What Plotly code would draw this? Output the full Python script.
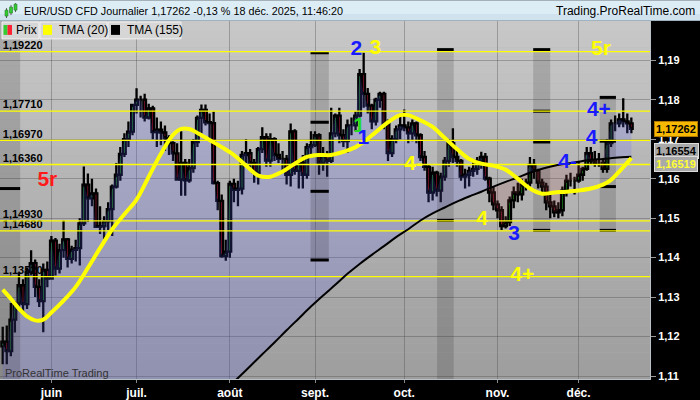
import numpy as np
import pandas as pd
import plotly.graph_objects as go

# ---------------- data ----------------
DATES = pd.bdate_range("2025-05-15", "2025-12-18")  # daily candles, weekdays

OPEN = [1.1175, 1.1187, 1.1163, 1.1243, 1.1284, 1.1330, 1.1282, 1.1364, 1.1386, 1.1326,
        1.1290, 1.1369, 1.1347, 1.1443, 1.1372, 1.1419, 1.1446, 1.1397, 1.1420, 1.1424,
        1.1487, 1.1585, 1.1550, 1.1563, 1.1478, 1.1480, 1.1492, 1.1523, 1.1580, 1.1610,
        1.1663, 1.1700, 1.1719, 1.1787, 1.1800, 1.1800, 1.1755, 1.1778, 1.1718, 1.1724,
        1.1717, 1.1703, 1.1690, 1.1664, 1.1598, 1.1640, 1.1596, 1.1627, 1.1693, 1.1754,
        1.1774, 1.1743, 1.1741, 1.1589, 1.1544, 1.1404, 1.1415, 1.1587, 1.1572, 1.1575,
        1.1660, 1.1665, 1.1640, 1.1615, 1.1675, 1.1705, 1.1646, 1.1700, 1.1660, 1.1650,
        1.1650, 1.1610, 1.1720, 1.1620, 1.1640, 1.1610, 1.1680, 1.1685, 1.1710, 1.1640,
        1.1660, 1.1645, 1.1715, 1.1760, 1.1710, 1.1695, 1.1735, 1.1735, 1.1760, 1.1865,
        1.1815, 1.1785, 1.1745, 1.1800, 1.1815, 1.1738, 1.1665, 1.1700, 1.1725, 1.1735,
        1.1730, 1.1715, 1.1740, 1.1710, 1.1655, 1.1630, 1.1565, 1.1615, 1.1570, 1.1605,
        1.1645, 1.1690, 1.1655, 1.1645, 1.1605, 1.1610, 1.1620, 1.1625, 1.1645, 1.1655,
        1.1600, 1.1565, 1.1535, 1.1520, 1.1480, 1.1490, 1.1545, 1.1565, 1.1560, 1.1585,
        1.1590, 1.1635, 1.1620, 1.1590, 1.1580, 1.1540, 1.1530, 1.1515, 1.1520, 1.1570,
        1.1595, 1.1595, 1.1595, 1.1610, 1.1625, 1.1665, 1.1645, 1.1640, 1.1640, 1.1625,
        1.1690, 1.1740, 1.1740, 1.1750, 1.1745, 1.1740]
HIGH = [1.1225, 1.1228, 1.1285, 1.1290, 1.1363, 1.1345, 1.1375, 1.1419, 1.1395, 1.1345,
        1.1385, 1.1390, 1.1455, 1.1450, 1.1435, 1.1495, 1.1450, 1.1430, 1.1445, 1.1500,
        1.1631, 1.1613, 1.1600, 1.1575, 1.1530, 1.1505, 1.1540, 1.1585, 1.1640, 1.1680,
        1.1715, 1.1745, 1.1790, 1.1829, 1.1810, 1.1815, 1.1790, 1.1785, 1.1755, 1.1745,
        1.1735, 1.1710, 1.1695, 1.1690, 1.1720, 1.1650, 1.1650, 1.1700, 1.1760, 1.1788,
        1.1788, 1.1765, 1.1770, 1.1595, 1.1560, 1.1445, 1.1595, 1.1600, 1.1595, 1.1670,
        1.1700, 1.1675, 1.1650, 1.1680, 1.1730, 1.1715, 1.1715, 1.1705, 1.1690, 1.1670,
        1.1660, 1.1740, 1.1725, 1.1650, 1.1660, 1.1690, 1.1720, 1.1720, 1.1715, 1.1680,
        1.1670, 1.1780, 1.1765, 1.1780, 1.1725, 1.1750, 1.1755, 1.1770, 1.1878, 1.1919,
        1.1830, 1.1790, 1.1805, 1.1820, 1.1820, 1.1750, 1.1710, 1.1735, 1.1760, 1.1775,
        1.1745, 1.1750, 1.1745, 1.1715, 1.1670, 1.1635, 1.1630, 1.1620, 1.1615, 1.1655,
        1.1700, 1.1728, 1.1675, 1.1650, 1.1625, 1.1630, 1.1645, 1.1655, 1.1668, 1.1665,
        1.1605, 1.1580, 1.1545, 1.1530, 1.1505, 1.1555, 1.1580, 1.1590, 1.1600, 1.1600,
        1.1655, 1.1650, 1.1625, 1.1600, 1.1590, 1.1560, 1.1545, 1.1540, 1.1580, 1.1610,
        1.1615, 1.1605, 1.1645, 1.1630, 1.1680, 1.1680, 1.1670, 1.1665, 1.1650, 1.1700,
        1.1750, 1.1760, 1.1765, 1.1804, 1.1765, 1.1755]
LOW = [1.1130, 1.1130, 1.1150, 1.1210, 1.1275, 1.1260, 1.1270, 1.1355, 1.1300, 1.1275,
       1.1211, 1.1325, 1.1345, 1.1355, 1.1360, 1.1400, 1.1375, 1.1385, 1.1390, 1.1380,
       1.1480, 1.1490, 1.1530, 1.1475, 1.1460, 1.1447, 1.1470, 1.1455, 1.1575, 1.1595,
       1.1655, 1.1680, 1.1710, 1.1765, 1.1755, 1.1745, 1.1750, 1.1700, 1.1680, 1.1685,
       1.1670, 1.1660, 1.1645, 1.1595, 1.1557, 1.1557, 1.1590, 1.1615, 1.1680, 1.1715,
       1.1735, 1.1700, 1.1585, 1.1520, 1.1400, 1.1392, 1.1400, 1.1540, 1.1530, 1.1560,
       1.1640, 1.1625, 1.1590, 1.1585, 1.1665, 1.1630, 1.1630, 1.1645, 1.1640, 1.1615,
       1.1585, 1.1580, 1.1610, 1.1575, 1.1575, 1.1600, 1.1660, 1.1680, 1.1610, 1.1620,
       1.1605, 1.1640, 1.1705, 1.1690, 1.1680, 1.1665, 1.1710, 1.1720, 1.1755, 1.1780,
       1.1765, 1.1725, 1.1735, 1.1780, 1.1725, 1.1645, 1.1655, 1.1690, 1.1700, 1.1720,
       1.1690, 1.1695, 1.1690, 1.1645, 1.1620, 1.1540, 1.1545, 1.1555, 1.1540, 1.1595,
       1.1630, 1.1640, 1.1630, 1.1595, 1.1575, 1.1580, 1.1605, 1.1610, 1.1625, 1.1595,
       1.1540, 1.1520, 1.1500, 1.1470, 1.1474, 1.1480, 1.1525, 1.1540, 1.1545, 1.1570,
       1.1580, 1.1600, 1.1575, 1.1565, 1.1520, 1.1500, 1.1502, 1.1500, 1.1505, 1.1555,
       1.1580, 1.1560, 1.1590, 1.1595, 1.1620, 1.1635, 1.1630, 1.1630, 1.1615, 1.1615,
       1.1680, 1.1720, 1.1730, 1.1730, 1.1715, 1.1715]
CLOSE = [1.1187, 1.1163, 1.1243, 1.1284, 1.1330, 1.1282, 1.1364, 1.1386, 1.1326, 1.1290,
         1.1369, 1.1347, 1.1443, 1.1372, 1.1419, 1.1446, 1.1397, 1.1420, 1.1424, 1.1487,
         1.1585, 1.1550, 1.1563, 1.1478, 1.1480, 1.1492, 1.1523, 1.1580, 1.1610, 1.1663,
         1.1700, 1.1719, 1.1787, 1.1800, 1.1800, 1.1755, 1.1778, 1.1718, 1.1724, 1.1717,
         1.1703, 1.1690, 1.1664, 1.1598, 1.1640, 1.1596, 1.1627, 1.1693, 1.1754, 1.1774,
         1.1743, 1.1741, 1.1589, 1.1544, 1.1404, 1.1415, 1.1587, 1.1572, 1.1575, 1.1660,
         1.1665, 1.1640, 1.1615, 1.1675, 1.1705, 1.1646, 1.1700, 1.1660, 1.1650, 1.1650,
         1.1610, 1.1720, 1.1620, 1.1640, 1.1610, 1.1680, 1.1685, 1.1710, 1.1640, 1.1660,
         1.1645, 1.1715, 1.1760, 1.1710, 1.1695, 1.1735, 1.1735, 1.1760, 1.1865, 1.1815,
         1.1785, 1.1745, 1.1800, 1.1815, 1.1738, 1.1665, 1.1700, 1.1725, 1.1735, 1.1730,
         1.1715, 1.1740, 1.1710, 1.1655, 1.1630, 1.1565, 1.1615, 1.1570, 1.1605, 1.1645,
         1.1690, 1.1655, 1.1645, 1.1605, 1.1610, 1.1620, 1.1625, 1.1645, 1.1655, 1.1600,
         1.1565, 1.1535, 1.1520, 1.1480, 1.1490, 1.1545, 1.1565, 1.1560, 1.1585, 1.1590,
         1.1635, 1.1620, 1.1590, 1.1580, 1.1540, 1.1530, 1.1515, 1.1520, 1.1570, 1.1595,
         1.1595, 1.1595, 1.1610, 1.1625, 1.1665, 1.1645, 1.1640, 1.1640, 1.1625, 1.1690,
         1.1740, 1.1740, 1.1750, 1.1745, 1.1740, 1.17262]

# TMA(20) and TMA(155) at candle positions
TMA20_POS = [0, 2, 4, 6, 8, 10, 12, 15, 18, 21, 24, 27, 30, 33, 36, 39, 42, 44, 46, 48,
             51, 54, 57, 60, 63, 66, 69, 72, 75, 78, 81, 84, 87, 89, 92, 95, 98, 100, 103,
             106, 109, 112, 115, 118, 121, 124, 127, 130, 133, 136, 139, 142, 145, 148,
             150, 152, 155]
TMA20_VAL = [1.1319, 1.1296, 1.1271, 1.1251, 1.1241, 1.1243, 1.1261, 1.1291, 1.1326, 1.1374,
             1.1424, 1.1472, 1.1510, 1.1547, 1.1605, 1.1663, 1.1711, 1.1726, 1.1726, 1.1716,
             1.1698, 1.1680, 1.1660, 1.1633, 1.1608, 1.1605, 1.1618, 1.1638, 1.1655, 1.1660,
             1.1660, 1.1668, 1.1680, 1.1693, 1.1718, 1.1743, 1.1761, 1.1761, 1.1748, 1.1731,
             1.1703, 1.1675, 1.1650, 1.1638, 1.1633, 1.1623, 1.1600, 1.1575, 1.1562, 1.1565,
             1.1567, 1.1570, 1.1575, 1.1585, 1.1597, 1.1618, 1.16519]
TMA155_POS = [55, 58, 61, 64, 67, 70, 73, 76, 79, 82, 85, 88, 91, 94, 97, 100, 103, 106,
              109, 112, 115, 118, 121, 124, 127, 130, 133, 136, 139, 142, 145, 148, 151, 155]
TMA155_VAL = [1.1065, 1.1095, 1.1125, 1.1155, 1.1185, 1.1216, 1.1246, 1.1276, 1.1304, 1.1331,
              1.1359, 1.1384, 1.1407, 1.1429, 1.1452, 1.1472, 1.1494, 1.1512, 1.1527, 1.1542,
              1.1555, 1.1567, 1.1580, 1.1592, 1.1603, 1.1615, 1.1625, 1.1633, 1.1638, 1.1643,
              1.1648, 1.1650, 1.1653, 1.16554]

LAST_PRICE = 1.17262
TMA155_LAST = 1.16554
TMA20_LAST = 1.16519

LEVELS = [1.1922, 1.1771, 1.1697, 1.1636, 1.1493, 1.1468, 1.1352]
LEVEL_TEXT = ["1,19220", "1,17710", "1,16970", "1,16360", "1,14930", "1,14680", "1,13520"]

MONTH_TEXT = {6: "juin", 7: "juil.", 8: "août", 9: "sept.", 10: "oct.", 11: "nov.", 12: "déc."}

# time-cycle bands (candle index span, price span) and their level marks
BAND_FROM = [-3.0, 75.9, 107.1, 130.8, 147.2]
BAND_TO = [4.3, 80.4, 111.2, 135.0, 151.2]
BAND_TOP = [1.2100, 1.1919, 1.1927, 1.1927, 1.1806]
BAND_BOT = [1.1000, 1.1394, 1.1000, 1.1469, 1.1467]
MARK_BAND = [0, 1, 1, 1, 1, 2, 2, 3, 3, 3, 3, 4, 4, 4, 4]
MARK_PRICE = [1.1575, 1.1919, 1.1743, 1.1568, 1.1394, 1.1927, 1.1494,
              1.1927, 1.1771, 1.1693, 1.1469, 1.1806, 1.1695, 1.1580, 1.1469]

# wave labels
WAVE_TEXT = ["5r", "2", "3", "5r", "1", "1", "4-", "4+", "4", "4-", "4", "3", "4+"]
WAVE_POS = [11.0, 87.2, 91.9, 147.5, 87.9, 88.9, 101.3, 147.0, 145.2, 139.3, 118.2, 126.1, 128.1]
WAVE_PRICE = [1.1595, 1.1927, 1.1929, 1.1927, 1.1731, 1.1700, 1.1635, 1.1771, 1.1700,
              1.1640, 1.1497, 1.1459, 1.1354]
WAVE_COLOR = ["#ff1a1a", "#1a1aff", "#ffff00", "#ffff00", "#22dd22", "#1a1aff", "#ffff00",
              "#1a1aff", "#1a1aff", "#1a1aff", "#ffff00", "#1a1aff", "#ffff00"]

# ---------------- layout constants ----------------
W, H = 700, 400
PL, PR, PT, PB = 0, 650, 21, 382
X_MIN, X_MAX = -0.67, 159.6
Y_MIN, Y_MAX = 1.10925, 1.19995
FONT = "Liberation Sans, Arial, sans-serif"


def px(x):
    return (x - PL) / (PR - PL)


def py(y):
    return (PB - y) / (PB - PT)


idx = np.arange(len(CLOSE))
close = np.array(CLOSE)
base = np.interp(idx, TMA155_POS, TMA155_VAL, left=Y_MIN - 0.02)

fig = go.Figure()
nohover = dict(hoverinfo="skip", showlegend=False)

# fill between price and TMA(155)
fig.add_trace(go.Scatter(x=idx, y=base, mode="lines", line=dict(width=0), **nohover))
fig.add_trace(go.Scatter(x=idx, y=np.maximum(close, base), mode="lines", line=dict(width=0),
                         fill="tonexty", fillcolor="rgba(90,90,255,0.19)", **nohover))
fig.add_trace(go.Scatter(x=idx, y=close, mode="lines", line=dict(width=0), **nohover))
fig.add_trace(go.Scatter(x=idx, y=np.maximum(base, close), mode="lines", line=dict(width=0),
                         fill="tonexty", fillcolor="rgba(180,80,80,0.17)", **nohover))

# bands
for x0, x1, t, b in zip(BAND_FROM, BAND_TO, BAND_TOP, BAND_BOT):
    fig.add_trace(go.Scatter(x=[x0, x1, x1, x0, x0], y=[b, b, t, t, b], mode="lines",
                             line=dict(width=0), fill="toself",
                             fillcolor="rgba(30,30,30,0.17)", **nohover))
mx, my = [], []
for bi, p in zip(MARK_BAND, MARK_PRICE):
    mx += [max(BAND_FROM[bi], X_MIN), BAND_TO[bi], None]
    my += [p, p, None]
fig.add_trace(go.Scatter(x=mx, y=my, mode="lines", line=dict(color="black", width=3), **nohover))

# level labels (under candles)
fig.add_trace(go.Scatter(x=[X_MIN + 0.7] * len(LEVELS), y=LEVELS, text=LEVEL_TEXT,
                         mode="text", textposition="top right",
                         textfont=dict(family=FONT, size=11, color="black", weight="bold"),
                         **nohover))

# candles
fig.add_trace(go.Candlestick(
    x=idx, open=OPEN, high=HIGH, low=LOW, close=CLOSE,
    increasing=dict(line=dict(color="black", width=2.3), fillcolor="#33ee33"),
    decreasing=dict(line=dict(color="black", width=2.3), fillcolor="#ff2255"),
    whiskerwidth=0, hoverinfo="skip", showlegend=False))

# horizontal levels
lx, ly = [], []
for L in LEVELS:
    lx += [X_MIN, X_MAX, None]
    ly += [L, L, None]
fig.add_trace(go.Scatter(x=lx, y=ly, mode="lines", line=dict(color="#ffff00", width=1.3), **nohover))

# moving averages
fig.add_trace(go.Scatter(x=TMA155_POS, y=TMA155_VAL, mode="lines",
                         line=dict(color="black", width=2, shape="spline"), **nohover))
fig.add_trace(go.Scatter(x=TMA20_POS, y=TMA20_VAL, mode="lines",
                         line=dict(color="#ffff00", width=4, shape="spline"), **nohover))

# wave labels
fig.add_trace(go.Scatter(x=WAVE_POS, y=WAVE_PRICE, text=WAVE_TEXT, mode="text",
                         textposition="middle center",
                         textfont=dict(family=FONT, size=21, color=WAVE_COLOR, weight="bold"),
                         **nohover))

# month ticks
tickvals, ticktext = [], []
for i, d in enumerate(DATES):
    if i > 0 and d.month != DATES[i - 1].month and d.month in MONTH_TEXT:
        tickvals.append(i)
        ticktext.append(MONTH_TEXT[d.month])

shapes = []
# plot background gradient
N = 40
for k in range(N):
    f = k / (N - 1)
    c = int(200 - 42 * f)
    shapes.append(dict(type="rect", xref="paper", yref="paper", x0=0, x1=1,
                       y0=1 - (k + 1) / N, y1=1 - k / N, fillcolor=f"rgb({c},{c},{c})",
                       line=dict(width=0), layer="below"))
# title bar
shapes.append(dict(type="rect", xref="paper", yref="paper", x0=px(0), x1=px(W), y0=py(21), y1=py(0),
                   fillcolor="#dcedf6", line=dict(width=0), layer="above"))
shapes.append(dict(type="rect", xref="paper", yref="paper", x0=px(0), x1=px(W), y0=py(21), y1=py(14),
                   fillcolor="#cfe2ee", line=dict(width=0), layer="above"))
shapes.append(dict(type="line", xref="paper", yref="paper", x0=px(0), x1=px(W), y0=py(20.5), y1=py(20.5),
                   line=dict(color="#9fb2bf", width=1), layer="above"))
# title icon
for (x0, x1, y0, y1, wy0, wy1, col) in [(5, 8, 10, 16, 8, 18, "#33cc33"), (9.5, 12.5, 7, 13, 5, 15, "#33cc33"),
                                          (14, 17, 4, 10, 3, 12, "#33cc33")]:
    shapes.append(dict(type="line", xref="paper", yref="paper", x0=px((x0 + x1) / 2), x1=px((x0 + x1) / 2),
                       y0=py(wy1), y1=py(wy0), line=dict(color="#555", width=1), layer="above"))
    shapes.append(dict(type="rect", xref="paper", yref="paper", x0=px(x0), x1=px(x1), y0=py(y1), y1=py(y0),
                       fillcolor=col, line=dict(color="#2a7a2a", width=0.6), layer="above"))
# legend boxes
for (x0, x1) in [(2, 39), (40, 107), (108, 181)]:
    shapes.append(dict(type="rect", xref="paper", yref="paper", x0=px(x0), x1=px(x1), y0=py(39), y1=py(22),
                       fillcolor="#d6d6d6", line=dict(color="#f2f2f2", width=1), layer="above"))
for (x0, x1, col) in [(3.5, 7.5, "#33cc33"), (7.5, 12, "#ff2233"), (43, 52, "#ffff00"), (111, 120, "#000000")]:
    shapes.append(dict(type="rect", xref="paper", yref="paper", x0=px(x0), x1=px(x1), y0=py(35), y1=py(25),
                       fillcolor=col, line=dict(width=0), layer="above"))

ann = []
ann.append(dict(xref="paper", yref="paper", x=px(22), y=py(10.5), xanchor="left", yanchor="middle",
                text=f"EUR/USD CFD Journalier {LAST_PRICE:.5f}".replace(".", ",")
                     + " -0,13 % 18 déc. 2025, 11:46:20",
                showarrow=False, font=dict(family=FONT, size=10.8, color="black")))
ann.append(dict(xref="paper", yref="paper", x=px(697), y=py(10.5), xanchor="right", yanchor="middle",
                text="Trading.ProRealTime.com", showarrow=False,
                font=dict(family=FONT, size=12, color="black")))
for (x, t) in [(14, "Prix"), (57, "TMA (20)"), (125, "TMA (155)")]:
    ann.append(dict(xref="paper", yref="paper", x=px(x), y=py(30.5), xanchor="left", yanchor="middle",
                    text=t, showarrow=False, font=dict(family=FONT, size=12, color="black")))
ann.append(dict(xref="paper", yref="paper", x=px(3), y=py(376), xanchor="left", yanchor="middle",
                text="ProRealTime Trading", showarrow=False,
                font=dict(family=FONT, size=11, color="#333333")))
# price tags on the right axis
for (val, bg, fg, bc, shift) in [(LAST_PRICE, "#f6b800", "black", "#b07a00", 0),
                                 (TMA155_LAST, "#a9a9a9", "black", "#dcdcdc", 6),
                                 (TMA20_LAST, "#a9a9a9", "#ffff33", "#dcdcdc", -6)]:
    ann.append(dict(xref="paper", yref="y", x=px(654), y=val, xanchor="left", yanchor="middle",
                    yshift=shift, text=f"{val:.5f}".replace(".", ","), showarrow=False,
                    bgcolor=bg, bordercolor=bc, borderwidth=1, borderpad=1,
                    font=dict(family=FONT, size=11, color=fg, weight="bold")))

fig.update_layout(
    width=W, height=H, margin=dict(l=PL, r=W - PR, t=PT, b=H - PB),
    paper_bgcolor="black", plot_bgcolor="#b4b4b4", showlegend=False,
    separators=", ", boxgap=0.05,
    shapes=shapes, annotations=ann,
    xaxis=dict(range=[X_MIN, X_MAX], tickmode="array", tickvals=tickvals, ticktext=ticktext,
               showgrid=True, gridcolor="rgba(70,70,70,0.35)", gridwidth=1, zeroline=False,
               ticks="outside", ticklen=3, tickcolor="#888888",
               tickfont=dict(family=FONT, size=12, color="white", weight="bold"),
               showline=True, linecolor="#b8c0c8", linewidth=1,
               rangeslider=dict(visible=False), fixedrange=True),
    yaxis=dict(range=[Y_MIN, Y_MAX], side="right", tick0=1.11, dtick=0.01, tickformat=".2f",
               showgrid=True, gridcolor="rgba(70,70,70,0.35)", gridwidth=1, zeroline=False,
               ticks="outside", ticklen=5, tickcolor="#999999",
               tickfont=dict(family=FONT, size=11, color="white", weight="bold"),
               showline=True, linecolor="#b8c0c8", linewidth=1, fixedrange=True),
)

fig.write_html("out.html", config={"displayModeBar": False, "staticPlot": True},
               post_script="document.body.style.margin='0';document.body.style.padding='0';")
